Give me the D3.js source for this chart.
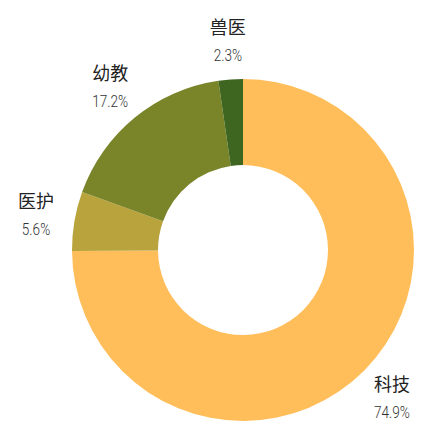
<!DOCTYPE html>
<html>
<head>
<meta charset="utf-8">
<script src="https://cdn.jsdelivr.net/npm/d3@7"></script>
<style>
  html, body { margin: 0; padding: 0; background: #fff; }
</style>
</head>
<body>
<div id="canvas"></div>
<script>
const categories = ["科技", "医护", "幼教", "兽医"];
const shares = [74.9, 5.6, 17.2, 2.3];
const shareLabels = ["74.9%", "5.6%", "17.2%", "2.3%"];
const colors = ["#FFBE5A", "#B8A33C", "#7A8429", "#3E6620"];

const width = 439;
const height = 435;
const cx = 243, cy = 250;
const outer = 171, inner = 85, labelR = 210;

const data = categories.map((name, i) => ({ name, value: shares[i], label: shareLabels[i], color: colors[i] }));

const svg = d3.select("#canvas").append("svg")
  .attr("width", width)
  .attr("height", height);

const g = svg.append("g").attr("transform", `translate(${cx},${cy})`);

const pie = d3.pie().value(d => d.value).sort(null);
const arc = d3.arc().innerRadius(inner).outerRadius(outer);
const labelArc = d3.arc().innerRadius(labelR).outerRadius(labelR);

const arcs = pie(data);

g.selectAll("path")
  .data(arcs)
  .enter()
  .append("path")
  .attr("d", arc)
  .attr("fill", d => d.data.color);

const labels = g.selectAll(".lbl")
  .data(arcs)
  .enter()
  .append("g")
  .attr("class", "lbl")
  .attr("transform", d => `translate(${labelArc.centroid(d)})`);

labels.append("text")
  .attr("text-anchor", "middle")
  .attr("y", -7)
  .style("font-family", "'Noto Sans CJK SC', sans-serif")
  .style("font-size", "18px")
  .style("fill", "#222")
  .text(d => d.data.name);

// condensed look for the percentages
labels.append("text")
  .attr("text-anchor", "middle")
  .attr("transform", "translate(0,20) scale(0.8,1)")
  .style("font-family", "Roboto, sans-serif")
  .style("font-weight", 300)
  .style("font-size", "17px")
  .style("fill", "#333")
  .text(d => d.data.label);
</script>
</body>
</html>
